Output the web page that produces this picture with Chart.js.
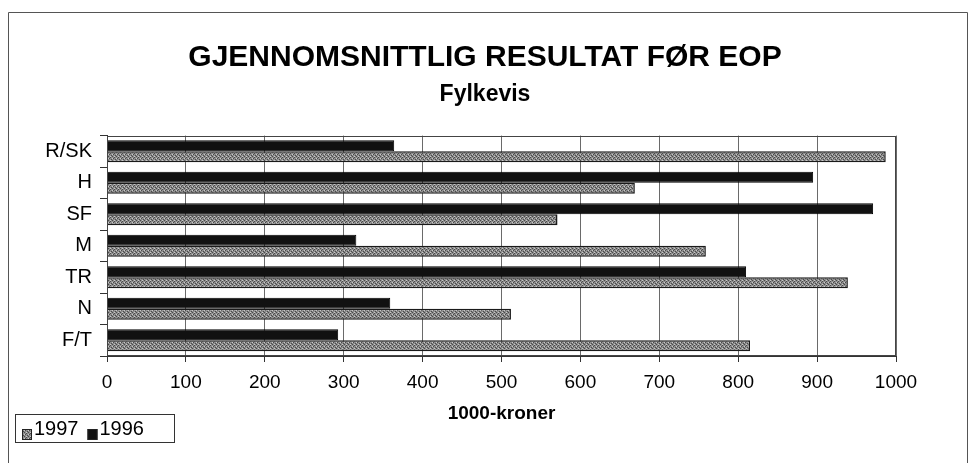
<!DOCTYPE html>
<html lang="no">
<head>
    <meta charset="UTF-8">
    <title>Gjennomsnittlig resultat før EOP</title>
    <script src="https://cdn.jsdelivr.net/npm/chart.js"></script>
    <style>
        html, body { margin: 0; padding: 0; background: #fff; }
        #wrap { width: 970px; height: 463px; position: relative; }
    </style>
</head>
<body>
    <div id="wrap"><canvas id="resultChart" width="970" height="463"></canvas></div>

    <script>
        // fylker, top to bottom
        const fylker = ['R/SK', 'H', 'SF', 'M', 'TR', 'N', 'F/T'];
        const res1996 = [364, 895, 971, 316, 810, 359, 293];
        const res1997 = [987, 669, 571, 759, 939, 512, 815];
        const xTicks = [0, 100, 200, 300, 400, 500, 600, 700, 800, 900, 1000];

        const fontFam = '"Liberation Sans", Arial, sans-serif';

        // speckled grey fill like the printed 1997 bars
        function greyPattern() {
            let c = document.createElement('canvas');
            c.width = 4; c.height = 4;
            let g = c.getContext('2d');
            g.fillStyle = '#8e8e8e';
            g.fillRect(0, 0, 4, 4);
            g.fillStyle = '#4a4a4a';
            g.fillRect(0, 0, 1, 1); g.fillRect(2, 1, 1, 1);
            g.fillRect(1, 2, 1, 1); g.fillRect(3, 3, 1, 1);
            g.fillStyle = '#c8c8c8';
            g.fillRect(2, 0, 1, 1); g.fillRect(0, 2, 1, 1);
            return g.createPattern(c, 'repeat');
        }

        // outer frame + legend box in the lower left
        const frameAndLegend = {
            id: 'frameAndLegend',
            afterDraw(chart) {
                const ctx = chart.ctx;
                ctx.save();
                ctx.strokeStyle = '#555';
                ctx.lineWidth = 1;
                ctx.beginPath();
                ctx.moveTo(8.5, 463);
                ctx.lineTo(8.5, 12.5);
                ctx.lineTo(967.5, 12.5);
                ctx.lineTo(967.5, 463);
                ctx.stroke();

                ctx.strokeStyle = '#333';
                ctx.strokeRect(15.5, 414.5, 159, 28);

                // legend shows 1997 first, then 1996
                const items = [chart.data.datasets[1], chart.data.datasets[0]];
                let x = 22;
                ctx.font = '20px ' + fontFam;
                ctx.textBaseline = 'middle';
                items.forEach(ds => {
                    ctx.fillStyle = ds.backgroundColor;
                    ctx.fillRect(x, 429, 10, 11);
                    ctx.strokeStyle = '#222';
                    ctx.strokeRect(x + 0.5, 429.5, 9, 10);
                    ctx.fillStyle = '#000';
                    ctx.fillText(ds.label, x + 12, 429);
                    x += 12 + ctx.measureText(ds.label).width + 9;
                });
                ctx.restore();
            }
        };

        const ctx = document.getElementById('resultChart').getContext('2d');
        new Chart(ctx, {
            type: 'bar',
            data: {
                labels: fylker,
                datasets: [{
                    label: '1996',
                    data: res1996,
                    backgroundColor: '#111',
                    borderColor: '#000',
                    borderWidth: 1
                }, {
                    label: '1997',
                    data: res1997,
                    backgroundColor: greyPattern(),
                    borderColor: '#1a1a1a',
                    borderWidth: 1.5
                }]
            },
            options: {
                indexAxis: 'y',
                responsive: false,
                animation: false,
                categoryPercentage: 0.7,
                barPercentage: 1,
                layout: { padding: 0 },
                plugins: {
                    legend: { display: false },
                    tooltip: { enabled: false },
                    title: {
                        display: true,
                        text: 'GJENNOMSNITTLIG RESULTAT FØR EOP',
                        color: '#000',
                        font: { family: fontFam, size: 30, weight: 'bold' },
                        padding: { top: 40, bottom: 3 }
                    },
                    subtitle: {
                        display: true,
                        text: 'Fylkevis',
                        color: '#000',
                        font: { family: fontFam, size: 23, weight: 'bold' },
                        padding: { top: 2, bottom: 27 }
                    }
                },
                scales: {
                    x: {
                        min: 0,
                        max: 1000,
                        afterBuildTicks: s => { s.ticks = xTicks.map(v => ({ value: v })); },
                        afterFit: s => { s.height = 107; },
                        grid: { color: '#6a6a6a', lineWidth: 1, tickLength: 6, tickColor: '#333' },
                        border: { color: '#333', width: 1 },
                        ticks: {
                            color: '#000', padding: 9, maxRotation: 0,
                            font: { family: fontFam, size: 19 },
                            callback: v => String(v)
                        },
                        title: {
                            display: true,
                            text: '1000-kroner',
                            color: '#000',
                            font: { family: fontFam, size: 19, weight: 'bold' },
                            padding: { top: 4, bottom: 38 }
                        }
                    },
                    y: {
                        afterFit: s => { s.width = 107; },
                        grid: { drawOnChartArea: false, offset: true, tickLength: 7, tickColor: '#333' },
                        border: { color: '#333', width: 1 },
                        ticks: { color: '#000', padding: 8, font: { family: fontFam, size: 20 } }
                    },
                    // empty right-hand box so the plot stops at 1000 while titles stay centred
                    yRight: {
                        type: 'category',
                        position: 'right',
                        afterFit: s => { s.width = 74; },
                        grid: { display: false },
                        border: { display: false },
                        ticks: { display: false }
                    }
                }
            },
            plugins: [frameAndLegend, {
                id: 'plotBorder',
                afterDatasetsDraw(chart) {
                    const a = chart.chartArea, c = chart.ctx;
                    c.save();
                    c.strokeStyle = '#444';
                    c.lineWidth = 1;
                    c.strokeRect(Math.round(a.left) + 0.5, Math.round(a.top) + 0.5,
                        Math.round(a.right - a.left) - 1, Math.round(a.bottom - a.top) - 1);
                    c.restore();
                }
            }]
        });
    </script>
</body>
</html>
